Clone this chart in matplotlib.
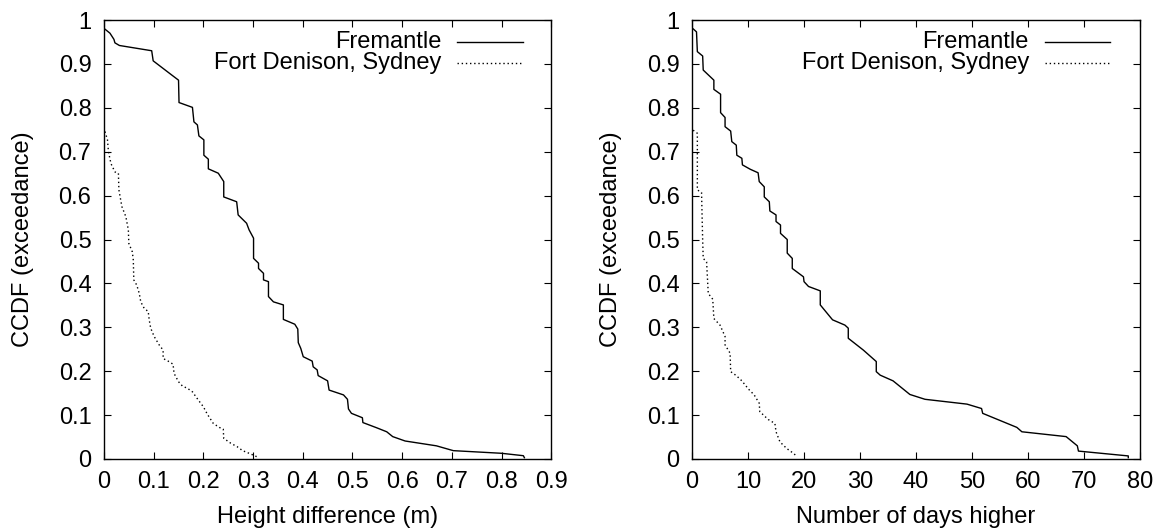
"""Two CCDF panels: tide height difference and number of days higher."""
import matplotlib
matplotlib.use("Agg")
import matplotlib.pyplot as plt

plt.rcParams["font.family"] = ["Liberation Sans", "DejaVu Sans"]
plt.rcParams["font.size"] = 17

# left panel: height difference (m)
frem_h_x = [0.0, 0.012, 0.02, 0.022, 0.031, 0.096, 0.099, 0.136, 0.150, 0.151, 0.178,
            0.181, 0.188, 0.191, 0.201, 0.201, 0.21, 0.21, 0.230, 0.241, 0.241, 0.267,
            0.270, 0.287, 0.292, 0.301, 0.301, 0.311, 0.311, 0.321, 0.321, 0.331, 0.331,
            0.341, 0.361, 0.361, 0.384, 0.390, 0.391, 0.396, 0.401, 0.419, 0.421, 0.429,
            0.431, 0.450, 0.453, 0.482, 0.490, 0.492, 0.498, 0.520, 0.521, 0.549, 0.569,
            0.581, 0.606, 0.669, 0.703, 0.800, 0.844, 0.846]
frem_h_y = [0.981, 0.970, 0.956, 0.948, 0.942, 0.930, 0.907, 0.875, 0.863, 0.812, 0.801,
            0.768, 0.761, 0.736, 0.727, 0.692, 0.683, 0.661, 0.651, 0.632, 0.597, 0.586,
            0.556, 0.537, 0.522, 0.503, 0.457, 0.446, 0.434, 0.423, 0.408, 0.404, 0.370,
            0.358, 0.351, 0.318, 0.307, 0.296, 0.265, 0.252, 0.233, 0.223, 0.210, 0.203,
            0.190, 0.178, 0.157, 0.146, 0.136, 0.114, 0.104, 0.094, 0.083, 0.071, 0.062,
            0.051, 0.041, 0.030, 0.019, 0.013, 0.0075, 0.003]

syd_h_x = [0.002, 0.007, 0.009, 0.014, 0.022, 0.029, 0.030, 0.036, 0.044, 0.049, 0.050,
           0.057, 0.059, 0.060, 0.066, 0.071, 0.074, 0.081, 0.089, 0.091, 0.094, 0.101,
           0.111, 0.119, 0.119, 0.129, 0.139, 0.141, 0.150, 0.158, 0.168, 0.178, 0.190,
           0.200, 0.208, 0.220, 0.232, 0.240, 0.241, 0.255, 0.268, 0.279, 0.292, 0.300,
           0.308]
syd_h_y = [0.746, 0.727, 0.700, 0.673, 0.654, 0.651, 0.613, 0.575, 0.552, 0.522, 0.491,
           0.472, 0.453, 0.408, 0.396, 0.377, 0.358, 0.343, 0.336, 0.317, 0.298, 0.279,
           0.260, 0.248, 0.229, 0.223, 0.216, 0.195, 0.176, 0.166, 0.161, 0.153, 0.134,
           0.119, 0.102, 0.081, 0.072, 0.068, 0.047, 0.036, 0.028, 0.019, 0.013, 0.009,
           0.005]

# right panel: number of days higher
frem_d_x = [0.1, 0.8, 0.95, 1.9, 2.0, 3.9, 3.9, 5.1, 5.1, 5.9, 5.9, 6.9, 7.1, 7.9, 8.0,
            8.9, 9.0, 10.4, 11.8, 12.0, 12.9, 12.9, 13.8, 13.9, 15.0, 15.0, 15.8, 15.8,
            17.0, 17.0, 17.9, 17.9, 19.9, 20.0, 20.8, 22.9, 22.9, 24.9, 25.1, 27.3, 27.9,
            27.9, 30.6, 32.9, 32.9, 33.6, 35.9, 38.9, 41.6, 49.1, 51.7, 51.9, 58.0, 58.9,
            66.8, 68.8, 69.0, 77.9, 77.9]
frem_d_y = [0.981, 0.973, 0.928, 0.918, 0.886, 0.863, 0.842, 0.831, 0.789, 0.778, 0.757,
            0.747, 0.723, 0.715, 0.692, 0.685, 0.670, 0.660, 0.652, 0.632, 0.620, 0.597,
            0.586, 0.565, 0.556, 0.541, 0.533, 0.514, 0.500, 0.469, 0.457, 0.434, 0.415,
            0.404, 0.393, 0.383, 0.351, 0.320, 0.317, 0.305, 0.298, 0.275, 0.248, 0.222,
            0.199, 0.191, 0.178, 0.147, 0.136, 0.125, 0.115, 0.104, 0.072, 0.062, 0.051,
            0.030, 0.018, 0.007, 0.003]

syd_d_x = [0.2, 0.95, 0.95, 1.7, 1.9, 2.0, 2.6, 2.9, 3.7, 3.9, 5.0, 5.9, 5.9, 6.8, 6.9,
           7.9, 8.9, 10.1, 11.1, 12.0, 12.1, 13.6, 14.8, 15.0, 15.7, 16.9, 18.1, 18.8]
syd_d_y = [0.749, 0.742, 0.613, 0.607, 0.499, 0.457, 0.449, 0.377, 0.364, 0.320, 0.305,
           0.279, 0.260, 0.241, 0.199, 0.190, 0.178, 0.159, 0.146, 0.127, 0.108, 0.090,
           0.081, 0.062, 0.039, 0.024, 0.013, 0.005]

labels = ["Fremantle", "Fort Denison, Sydney"]
y_ticks = [0, 0.1, 0.2, 0.3, 0.4, 0.5, 0.6, 0.7, 0.8, 0.9, 1]
y_ticklabels = ["0", "0.1", "0.2", "0.3", "0.4", "0.5", "0.6", "0.7", "0.8", "0.9", "1"]
h_ticks = [0, 0.1, 0.2, 0.3, 0.4, 0.5, 0.6, 0.7, 0.8, 0.9]
h_ticklabels = ["0", "0.1", "0.2", "0.3", "0.4", "0.5", "0.6", "0.7", "0.8", "0.9"]
d_ticks = [0, 10, 20, 30, 40, 50, 60, 70, 80]


def style_axes(ax):
    for s in ax.spines.values():
        s.set_linewidth(1.0)
    ax.tick_params(direction="in", length=5, width=0.8, top=True, right=True,
                   pad=9, labelsize=17)
    ax.set_ylim(0, 1)
    ax.set_yticks(y_ticks)
    ax.set_yticklabels(y_ticklabels)
    ax.set_ylabel("CCDF (exceedance)", labelpad=18)


def legend(ax, text_x, line_x0, line_x1):
    rows = [(0.950, "-"), (0.902, (0, (1, 2)))]
    for (yy, ls), lab in zip(rows, labels):
        ax.text(text_x, yy, lab, ha="right", va="center", transform=ax.transAxes)
        ax.plot([line_x0, line_x1], [yy, yy], color="black", lw=1.0, ls=ls,
                transform=ax.transAxes)


def main():
    fig = plt.figure(figsize=(11.58, 5.31), dpi=100)
    ax1 = fig.add_axes([0.0898, 0.1356, 0.3862, 0.8267])
    ax2 = fig.add_axes([0.5976, 0.1356, 0.3869, 0.8267])

    ax1.plot(frem_h_x, frem_h_y, color="black", lw=1.0)
    ax1.plot(syd_h_x, syd_h_y, color="black", lw=1.0, ls=(0, (1, 2)))
    ax1.set_xlim(0, 0.9)
    ax1.set_xticks(h_ticks)
    ax1.set_xticklabels(h_ticklabels)
    ax1.set_xlabel("Height difference (m)", labelpad=9)
    style_axes(ax1)
    legend(ax1, 0.755, 0.789, 0.937)

    ax2.plot(frem_d_x, frem_d_y, color="black", lw=1.0)
    ax2.plot(syd_d_x, syd_d_y, color="black", lw=1.0, ls=(0, (1, 2)))
    ax2.set_xlim(0, 80)
    ax2.set_xticks(d_ticks)
    ax2.set_xlabel("Number of days higher", labelpad=9)
    style_axes(ax2)
    legend(ax2, 0.752, 0.788, 0.933)

    fig.savefig("out.png", dpi=100)
    plt.close(fig)


if __name__ == "__main__":
    main()
